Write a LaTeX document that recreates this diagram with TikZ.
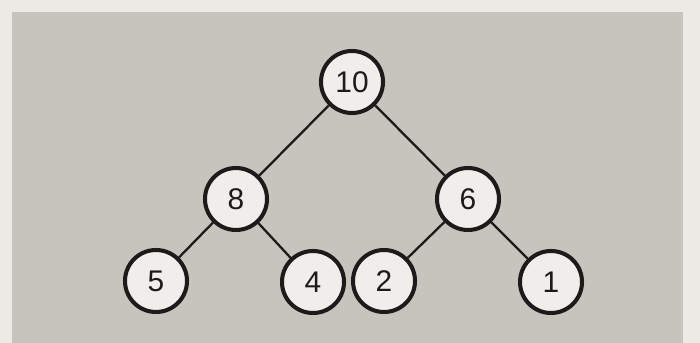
\documentclass[tikz,border=0pt]{standalone}
\usepackage{fontspec}
\setmainfont{Liberation Sans}
\usepackage{xcolor}
\usepackage{tikz}
\usetikzlibrary{positioning}
\definecolor{paper}{RGB}{236,234,229}
\definecolor{panel}{RGB}{199,196,189}
\definecolor{disc}{RGB}{240,238,234}
\definecolor{ink}{RGB}{30,26,28}
\tikzset{
  heapnode/.style={draw=ink, circle, line width=2.3pt, fill=disc, minimum size=12.4mm, inner sep=0pt, font=\fontsize{17}{19}\selectfont, text=ink},
  link/.style={draw=ink, line width=1.3pt},
  every node/.style={font=\small}
}
\begin{document}
\begin{tikzpicture}[x=0.2mm, y=-0.2mm]
    \useasboundingbox[fill=paper] (0,0) rectangle (700,343);
    \fill[panel] (12,12) rectangle (683,343);

    \node[heapnode] (n10) at (352,82) {10};
    \node[heapnode] (n8) at (236,199) {8};
    \node[heapnode] (n6) at (468,199) {6};
    \node[heapnode] (n5) at (156,281) {5};
    \node[heapnode] (n4) at (313,282) {4};
    \node[heapnode] (n2) at (384,281) {2};
    \node[heapnode] (n1) at (551,282) {1};

    \draw[link] (n10) -- (n8);
    \draw[link] (n10) -- (n6);
    \draw[link] (n8) -- (n5);
    \draw[link] (n8) -- (n4);
    \draw[link] (n6) -- (n2);
    \draw[link] (n6) -- (n1);
\end{tikzpicture}
\end{document}
